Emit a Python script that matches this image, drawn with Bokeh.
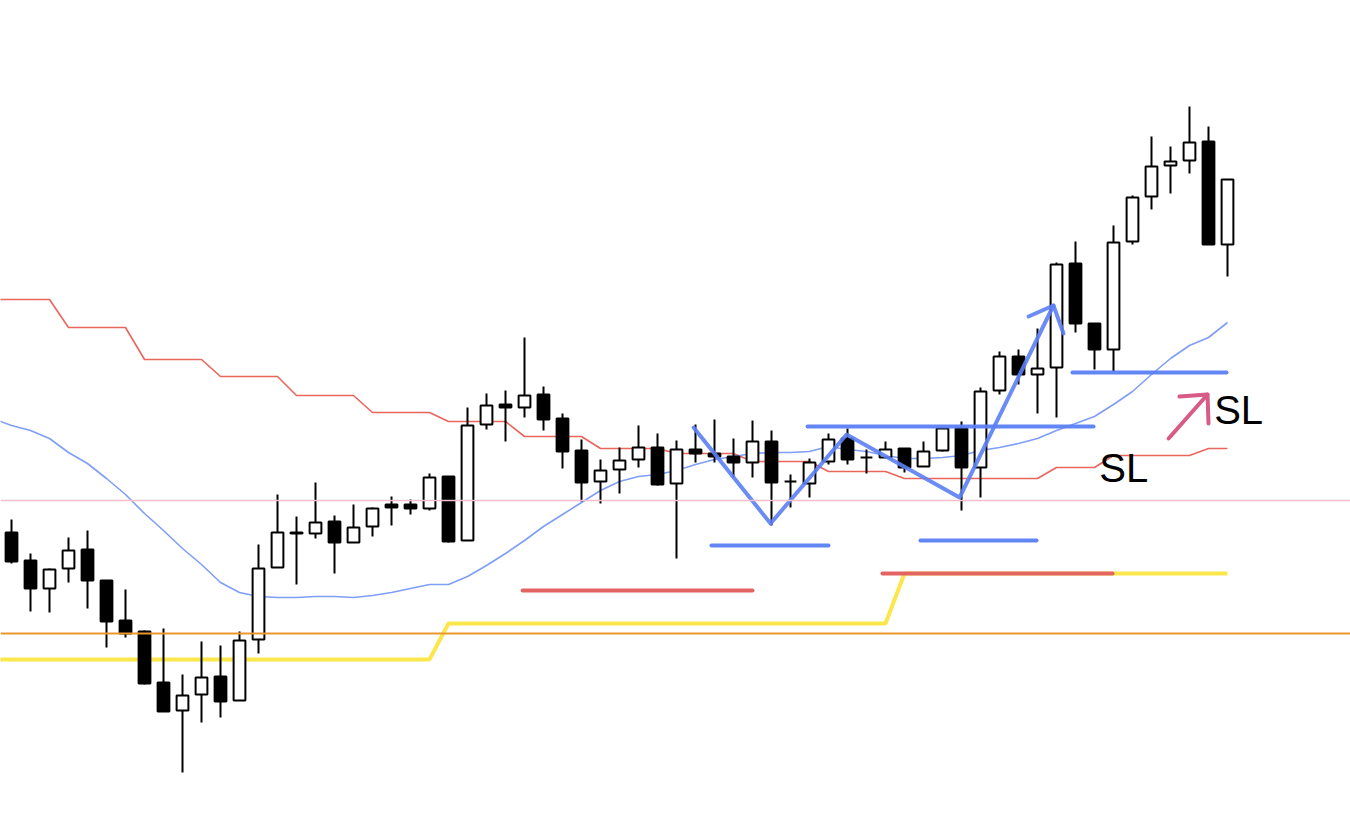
from bokeh.plotting import figure
from bokeh.models import Range1d, Span, ColumnDataSource
from bokeh.core.properties import value
from bokeh.embed import file_html
from bokeh.resources import INLINE

# ---------------- data ----------------
opens = [149.68, 149.40, 149.12, 149.32, 149.51, 149.20, 148.80, 148.69, 148.18, 147.90,
         148.06, 148.24, 148.00, 148.61, 149.33, 149.67, 149.67, 149.79, 149.58, 149.74,
         149.96, 149.96, 149.92, 150.24, 149.60, 150.76, 150.96, 150.93, 151.06, 150.82,
         150.50, 150.19, 150.31, 150.41, 150.53, 150.17, 150.51, 150.47, 150.44, 150.38,
         150.59, 150.19, 150.17, 150.39, 150.62, 150.43, 150.43, 150.52, 150.34, 150.50,
         150.72, 150.33, 151.10, 151.44, 151.26, 151.33, 152.37, 151.77, 151.51, 152.59,
         153.04, 153.35, 153.40, 153.59, 152.56]
highs = [149.81, 149.47, 149.32, 149.63, 149.70, 149.20, 149.11, 148.70, 148.72, 148.26,
         148.59, 148.55, 148.69, 149.56, 150.06, 149.84, 150.18, 149.85, 149.96, 149.93,
         150.04, 150.01, 150.27, 150.24, 150.93, 151.07, 151.10, 151.63, 151.14, 150.87,
         150.61, 150.41, 150.53, 150.75, 150.67, 150.60, 150.76, 150.81, 150.62, 150.80,
         150.70, 150.26, 150.42, 150.67, 150.72, 150.51, 150.59, 150.52, 150.59, 150.73,
         150.79, 151.13, 151.49, 151.51, 151.72, 152.38, 152.59, 151.77, 152.75, 153.05,
         153.64, 153.54, 153.94, 153.74, 153.21]
lows = [149.37, 148.89, 148.88, 149.18, 148.92, 148.53, 148.63, 148.16, 147.89, 147.28,
        147.78, 147.83, 148.00, 148.47, 149.33, 149.16, 149.62, 149.27, 149.58, 149.64,
        149.75, 149.86, 149.90, 149.58, 149.60, 150.71, 150.59, 150.83, 150.70, 150.32,
        149.99, 149.97, 150.07, 150.33, 150.15, 149.42, 150.38, 150.38, 150.23, 150.23,
        149.75, 149.93, 150.03, 150.36, 150.36, 150.27, 150.43, 150.28, 150.34, 150.49,
        149.90, 150.03, 151.06, 151.16, 150.87, 150.83, 151.68, 151.31, 151.29, 152.56,
        152.91, 153.07, 153.27, 152.56, 152.24]
closes = [149.39, 149.12, 149.31, 149.50, 149.20, 148.79, 148.67, 148.17, 147.89, 148.05,
          148.23, 147.99, 148.60, 149.32, 149.68, 149.68, 149.78, 149.58, 149.73, 149.92,
          149.93, 149.92, 150.23, 149.59, 150.75, 150.95, 150.93, 151.05, 150.81, 150.49,
          150.18, 150.30, 150.40, 150.53, 150.16, 150.51, 150.47, 150.44, 150.38, 150.59,
          150.18, 150.19, 150.38, 150.61, 150.41, 150.43, 150.51, 150.33, 150.49, 150.72,
          150.33, 151.09, 151.44, 151.26, 151.32, 152.36, 151.77, 151.51, 152.58, 153.03,
          153.34, 153.39, 153.58, 152.56, 153.21]

# indicator series (index -1 .. 64, one value per bar)
red_band = ([152.01] * 4 + [151.73] * 4 + [151.41] * 4 + [151.24] * 4 + [151.05] * 4 +
            [150.88] * 4 + [150.79] * 4 + [150.64] * 4 + [150.52] * 4 + [150.47] * 4 +
            [150.39] * 4 + [150.29] * 4 + [150.22] * 8 + [150.33] * 3 + [150.45] * 5 +
            [150.52] * 2)
blue_ma = [150.82, 150.75, 150.70, 150.62, 150.48, 150.37, 150.22, 150.06, 149.87, 149.70,
           149.52, 149.36, 149.18, 149.08, 149.04, 149.03, 149.03, 149.04, 149.04, 149.03,
           149.05, 149.08, 149.12, 149.16, 149.16, 149.24, 149.35, 149.47, 149.60, 149.74,
           149.86, 149.98, 150.10, 150.19, 150.24, 150.26, 150.30, 150.36, 150.41, 150.44,
           150.47, 150.48, 150.48, 150.49, 150.54, 150.51, 150.49, 150.45, 150.42, 150.42,
           150.43, 150.45, 150.50, 150.53, 150.57, 150.62, 150.70, 150.77, 150.84, 150.96,
           151.09, 151.26, 151.42, 151.55, 151.63, 151.78]
yellow_line = [148.41] * 24 + [148.77] * 24 + [149.27] * 18

orange_level = 148.67
pink_level = 150.00

# hand-drawn annotations
red_levels = [(26.9, 39.0, 149.10), (45.84, 57.95, 149.27)]
blue_levels = [(36.84, 43.0, 149.55), (47.84, 53.95, 149.60),
               (41.9, 56.95, 150.74), (55.84, 63.95, 151.28)]
zig_x = [35.9, 39.95, 43.95, 49.9, 54.84]
zig_y = [150.73, 149.77, 150.66, 150.03, 151.95]
zig_head_x = [53.53, 54.84, 55.37]
zig_head_y = [151.84, 151.95, 151.67]
pink_arrow_x = [60.9, 62.95]
pink_arrow_y = [150.62, 151.06]
pink_head_x = [61.47, 62.95, 63.0]
pink_head_y = [151.04, 151.06, 150.77]
sl_labels = ["SL", "SL"]
sl_x = [57.25, 63.3]
sl_y = [150.33, 150.91]

# ---------------- figure ----------------
n = len(opens)
idx = list(range(n))
ind_x = list(range(-1, n))

p = figure(width=1350, height=824,
           x_range=Range1d(-0.579, 70.474), y_range=Range1d(146.76, 155.00),
           output_backend="svg", toolbar_location=None,
           x_axis_location=None, y_axis_location=None,
           min_border=0, outline_line_color=None, background_fill_color="white")
p.grid.grid_line_color = None

p.add_layout(Span(location=pink_level, dimension="width", line_color="#f2bfcd", line_width=1.5))
p.add_layout(Span(location=orange_level, dimension="width", line_color="#e9962c", line_width=2))

p.line(ind_x, yellow_line, line_color="#fbe74c", line_width=4)
p.line(ind_x, red_band, line_color="#ea655b", line_width=1.6)
p.line(ind_x, blue_ma, line_color="#7f9ef6", line_width=1.6)

for (x0, x1, y) in red_levels:
    p.line([x0, x1], [y, y], line_color="#e26463", line_width=4, line_cap="round")

bot = [min(o, c) for o, c in zip(opens, closes)]
top = [max(o, c) for o, c in zip(opens, closes)]
fill = ["white" if c >= o else "black" for o, c in zip(opens, closes)]
src = ColumnDataSource(dict(x=idx, o=opens, h=highs, l=lows, c=closes,
                            bot=bot, top=top, fill=fill))
p.segment(x0="x", y0="h", x1="x", y1="l", source=src, line_color="black", line_width=2)
p.vbar(x="x", bottom="bot", top="top", width=0.62, source=src,
       fill_color="fill", line_color="black", line_width=2)

blue = "#5b7ff4"
for (x0, x1, y) in blue_levels:
    p.line([x0, x1], [y, y], line_color=blue, line_width=4, line_cap="round", line_alpha=0.95)
p.line(zig_x, zig_y, line_color=blue, line_width=4, line_alpha=0.9,
       line_join="round", line_cap="round")
p.line(zig_head_x, zig_head_y, line_color=blue, line_width=4, line_alpha=0.9,
       line_join="round", line_cap="round")

p.line(pink_arrow_x, pink_arrow_y, line_color="#d85a86", line_width=4, line_cap="round")
p.line(pink_head_x, pink_head_y, line_color="#d85a86", line_width=4,
       line_join="round", line_cap="round")

p.text(x=sl_x, y=sl_y, text=sl_labels, text_font=value("Liberation Sans"),
       text_font_size="40px", text_color="black", text_align="left",
       text_baseline="alphabetic")

open("out.html", "w").write(file_html(p, INLINE))
